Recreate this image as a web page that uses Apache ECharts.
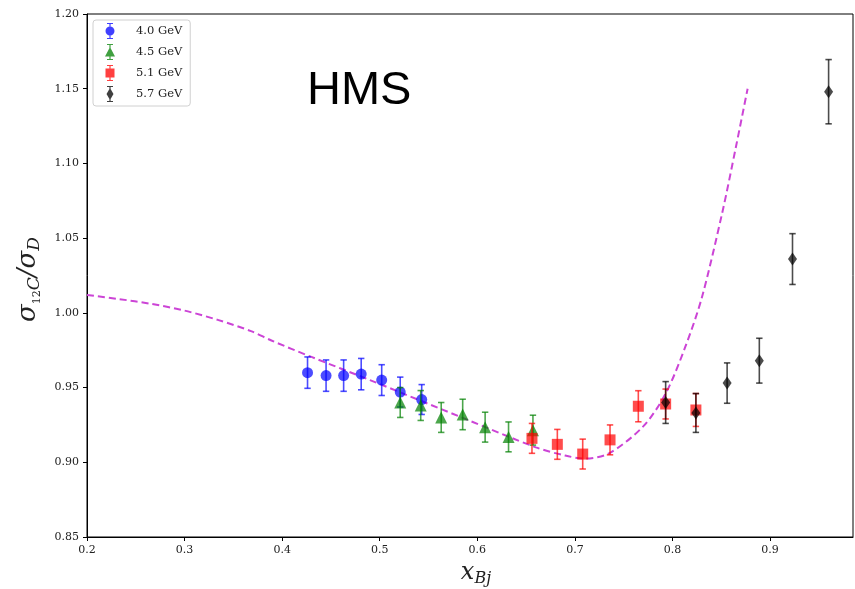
<!DOCTYPE html>
<html>
<head>
<meta charset="utf-8">
<script src="https://cdn.jsdelivr.net/npm/echarts@6/dist/echarts.min.js"></script>
<style>html,body{margin:0;padding:0;background:#fff}#c{width:855px;height:589px}</style>
</head>
<body>
<div id="c"></div>
<script>
// ---- data ----
const xTicks = [0.2, 0.3, 0.4, 0.5, 0.6, 0.7, 0.8, 0.9];
const yTicks = [0.85, 0.90, 0.95, 1.00, 1.05, 1.10, 1.15, 1.20];

const blueX = [0.426, 0.445, 0.463, 0.481, 0.502, 0.521, 0.543];
const blueY = [0.960, 0.958, 0.958, 0.959, 0.955, 0.947, 0.942];
const blueErr = [0.0105, 0.0105, 0.0105, 0.0105, 0.0103, 0.010, 0.010];

const greenX = [0.521, 0.542, 0.563, 0.585, 0.608, 0.632, 0.657];
const greenY = [0.940, 0.938, 0.930, 0.932, 0.9235, 0.917, 0.9215];
const greenErr = [0.010, 0.010, 0.010, 0.0102, 0.010, 0.010, 0.010];

const redX = [0.656, 0.682, 0.708, 0.736, 0.765, 0.793, 0.824];
const redY = [0.916, 0.912, 0.9055, 0.915, 0.9375, 0.939, 0.935];
const redErr = [0.010, 0.010, 0.010, 0.010, 0.0104, 0.010, 0.011];

const blackX = [0.793, 0.824, 0.856, 0.889, 0.923, 0.960];
const blackY = [0.940, 0.933, 0.953, 0.968, 1.036, 1.148];
const blackErr = [0.014, 0.013, 0.0135, 0.015, 0.017, 0.0215];

const curveX = [0.20, 0.232, 0.266, 0.300, 0.334, 0.368, 0.389, 0.43, 0.49, 0.59, 0.66, 0.69, 0.71, 0.735, 0.77, 0.793, 0.813, 0.83, 0.851, 0.865, 0.877];
const curveY = [1.012, 1.0093, 1.006, 1.0015, 0.9953, 0.9878, 0.9815, 0.9705, 0.955, 0.9284, 0.910, 0.9045, 0.9025, 0.906, 0.924, 0.946, 0.977, 1.010, 1.067, 1.111, 1.150];

const seriesNames = ['4.0 GeV', '4.5 GeV', '5.1 GeV', '5.7 GeV'];
// ---------------

const zip3 = (a, b, c) => a.map((v, i) => [v, b[i], c[i]]);
const zip2 = (a, b) => a.map((v, i) => [v, b[i]]);

const cols = ['#0000ff', '#008000', '#ff0000', '#000000'];
const syms = ['circle', 'triangle', 'rect', 'diamond'];
const sizes = [11, 12, 11, [9, 13]];
const icons = [
  'path://M4.4 0H5.6V16H4.4Z M2 0H8V1H2Z M2 15H8V16H2Z M0.5 8A4.5 4.5 0 0 1 9.5 8A4.5 4.5 0 0 1 0.5 8Z',
  'path://M4.4 0H5.6V16H4.4Z M2 0H8V1H2Z M2 15H8V16H2Z M5 3L10 12.5L0 12.5Z',
  'path://M4.4 0H5.6V16H4.4Z M2 0H8V1H2Z M2 15H8V16H2Z M0.5 3.5H9.5V12.5H0.5Z',
  'path://M4.4 0H5.6V16H4.4Z M2 0H8V1H2Z M2 15H8V16H2Z M5 2L8.5 8L5 14L1.5 8Z'
];
const sets = [
  [blueX, blueY, blueErr],
  [greenX, greenY, greenErr],
  [redX, redY, redErr],
  [blackX, blackY, blackErr]
];

function errRender(color) {
  return function (params, api) {
    const x = api.value(0), y = api.value(1), e = api.value(2);
    const t = api.coord([x, y + e]), b = api.coord([x, y - e]);
    const cw = 3.2;
    const st = { stroke: color, lineWidth: 1.6, opacity: 0.7 };
    return {
      type: 'group',
      children: [
        { type: 'line', shape: { x1: t[0], y1: t[1], x2: b[0], y2: b[1] }, style: st },
        { type: 'line', shape: { x1: t[0] - cw, y1: t[1], x2: t[0] + cw, y2: t[1] }, style: st },
        { type: 'line', shape: { x1: b[0] - cw, y1: b[1], x2: b[0] + cw, y2: b[1] }, style: st }
      ]
    };
  };
}

const series = [];
series.push({
  type: 'line',
  name: 'curve',
  data: zip2(curveX, curveY),
  showSymbol: false,
  smooth: 0.3,
  lineStyle: { color: '#cc44d6', width: 2, type: [7, 4] },
  z: 1,
  silent: true
});
sets.forEach((s, i) => {
  series.push({
    type: 'custom',
    name: 'err' + i,
    renderItem: errRender(cols[i]),
    data: zip3(s[0], s[1], s[2]),
    z: 2 + i * 2,
    silent: true
  });
  series.push({
    type: 'scatter',
    name: seriesNames[i],
    data: zip2(s[0], s[1]),
    symbol: syms[i],
    symbolSize: sizes[i],
    itemStyle: { color: cols[i], opacity: 0.7 },
    z: 3 + i * 2
  });
});

const serif = 'DejaVu Serif';
const chart = echarts.init(document.getElementById('c'), null, { renderer: 'canvas' });
chart.setOption({
  animation: false,
  backgroundColor: '#fff',
  grid: { left: 87, right: 2, top: 14, bottom: 52, outerBoundsMode: 'none', containLabel: false, show: true, borderColor: '#000', borderWidth: 1, backgroundColor: 'transparent' },
  legend: {
    orient: 'vertical',
    left: 93, top: 20,
    padding: [3, 8, 4, 12],
    itemWidth: 10, itemHeight: 16, itemGap: 5,
    borderColor: '#d0d0d0', borderWidth: 1, borderRadius: 3,
    backgroundColor: '#fff',
    data: seriesNames.map((n, i) => ({ name: n, icon: icons[i], itemStyle: { color: cols[i], opacity: 0.75 } })),
    textStyle: { fontFamily: serif, fontSize: 11.5, color: '#222', padding: [0, 0, 0, 16] }
  },
  graphic: [{
    type: 'text', left: 307, top: 68,
    style: { text: 'HMS', font: '47px "Liberation Sans", Arial, sans-serif', fill: '#000' }
  }],
  xAxis: {
    type: 'value', min: 0.2, max: 0.985, interval: 0.1,
    axisLine: { show: true, onZero: false, lineStyle: { color: '#000', width: 1 } },
    axisTick: { show: true, inside: false, length: 4, customValues: xTicks, lineStyle: { color: '#000' } },
    axisLabel: { customValues: xTicks, formatter: v => v.toFixed(1), fontFamily: serif, fontSize: 11, color: '#222', margin: 8 },
    splitLine: { show: false },
    name: '{x|x}{s|Bj}',
    nameLocation: 'middle', nameGap: 22,
    nameTextStyle: {
      padding: [0, 0, 0, 12],
      rich: {
        x: { fontFamily: serif, fontStyle: 'italic', fontSize: 24, color: '#222', lineHeight: 28 },
        s: { fontFamily: serif, fontStyle: 'italic', fontSize: 16, color: '#222', verticalAlign: 'bottom', lineHeight: 18 }
      }
    }
  },
  yAxis: {
    type: 'value', min: 0.85, max: 1.20, interval: 0.05,
    axisLine: { show: true, onZero: false, lineStyle: { color: '#000', width: 1 } },
    axisTick: { show: true, inside: false, length: 4, lineStyle: { color: '#000' } },
    axisLabel: { formatter: v => v.toFixed(2), fontFamily: serif, fontSize: 11, color: '#222', margin: 8 },
    splitLine: { show: false },
    name: '{g|σ}{n|12}{c|C}{g|/σ}{d|D}',
    nameLocation: 'middle', nameRotate: 90, nameGap: 44,
    nameTextStyle: {
      padding: [0, 8, 0, 0],
      rich: {
        g: { fontFamily: serif, fontStyle: 'italic', fontSize: 26, color: '#222', lineHeight: 30 },
        n: { fontFamily: serif, fontSize: 11, color: '#222', verticalAlign: 'bottom', lineHeight: 23 },
        c: { fontFamily: serif, fontStyle: 'italic', fontSize: 17, color: '#222', verticalAlign: 'bottom', lineHeight: 19 },
        d: { fontFamily: serif, fontStyle: 'italic', fontSize: 17, color: '#222', verticalAlign: 'bottom', lineHeight: 19 }
      }
    }
  },
  series: series
});
</script>
</body>
</html>
